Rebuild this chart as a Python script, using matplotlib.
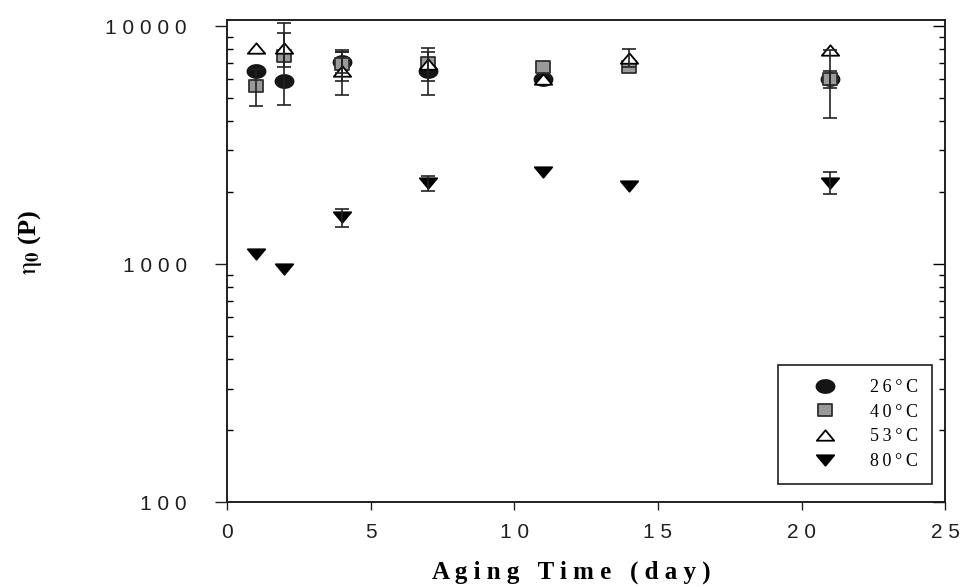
import matplotlib.pyplot as plt
import numpy as np
from matplotlib.path import Path
from matplotlib.ticker import FixedLocator, FuncFormatter, LogLocator, NullFormatter

# ---------------------------------------------------------------------------
# Data: zero-shear viscosity vs. aging time at four storage temperatures
# ---------------------------------------------------------------------------

days_26 = [1, 2, 4, 7, 11, 21]
eta_26 = [6450, 5900, 7050, 6450, 6000, 6000]
err_26 = [0, 0, 700, 1340, 0, 500]

days_40 = [1, 2, 4, 7, 11, 14, 21]
eta_40 = [5600, 7450, 6900, 7000, 6700, 6750, 6000]
err_40 = [1000, 2800, 1000, 0, 0, 0, 1900]

days_53 = [1, 2, 4, 7, 11, 14, 21]
eta_53 = [8100, 8050, 6450, 6950, 6000, 7350, 7900]
err_53 = [0, 1300, 1300, 1100, 0, 620, 0]

days_80 = [1, 2, 4, 7, 11, 14, 21]
eta_80 = [1100, 950, 1570, 2190, 2430, 2130, 2200]
err_80 = [0, 0, 135, 160, 0, 0, 225]

labels = ["26°C", "40°C", "53°C", "80°C"]
x_ticks = [0, 5, 10, 15, 20, 25]
y_ticks = [100, 1000, 10000]

plt.rcParams["mathtext.fontset"] = "stix"

THIN = "\u2009"


def spaced(s: str, sep: str = " ") -> str:
    """Letter-spaced text, the way the old plotting package set it."""
    return sep.join(s)


# flattened marker shapes
t = np.linspace(0, 2 * np.pi, 40)
ELLIPSE = Path(np.column_stack([np.cos(t), 0.72 * np.sin(t)]), closed=True)
TRI_UP = Path([(0, 0.6), (-1, -0.6), (1, -0.6), (0, 0.6)], closed=True)
TRI_DOWN = Path([(0, -0.6), (-1, 0.6), (1, 0.6), (0, -0.6)], closed=True)
SQUARE = Path([(-1, -0.85), (1, -0.85), (1, 0.85), (-1, 0.85), (-1, -0.85)], closed=True)

series = [
    (days_26, eta_26, err_26, ELLIPSE, "#151515", "#151515", 13),
    (days_40, eta_40, err_40, SQUARE, "#9a9a9a", "#303030", 10),
    (days_53, eta_53, err_53, TRI_UP, "white", "black", 12.5),
    (days_80, eta_80, err_80, TRI_DOWN, "black", "black", 12.5),
]

fig = plt.figure(figsize=(9.64, 5.88), dpi=100)
ax = fig.add_axes([0.2355, 0.146, 0.745, 0.820])

handles = []
for (d, v, e, mk, fc, ec, ms), lab in zip(series, labels):
    h, = ax.plot(d, v, linestyle="none", marker=mk, markersize=ms,
                 markerfacecolor=fc, markeredgecolor=ec, markeredgewidth=1.3,
                 label=lab, zorder=3)
    handles.append(h)
    d = np.asarray(d)
    v = np.asarray(v, dtype=float)
    e = np.asarray(e, dtype=float)
    has = e > 0
    if has.any():
        ax.errorbar(d[has], v[has], yerr=e[has], fmt="none", ecolor="#222222",
                    elinewidth=1.2, capsize=5, capthick=1.2, zorder=4)

ax.set_yscale("log")
ax.set_xlim(0, 25)
ax.set_ylim(100, 10600)

ax.xaxis.set_major_locator(FixedLocator(x_ticks))
ax.yaxis.set_major_locator(FixedLocator(y_ticks))
ax.yaxis.set_minor_locator(LogLocator(base=10, subs=np.arange(2, 10)))
ax.yaxis.set_minor_formatter(NullFormatter())

tick_fmt = FuncFormatter(lambda val, pos: spaced(f"{val:g}"))
ax.xaxis.set_major_formatter(tick_fmt)
ax.yaxis.set_major_formatter(tick_fmt)

ax.tick_params(axis="x", which="major", direction="out", length=6, width=1,
               top=False, labelsize=15, pad=9, colors="#202020")
ax.tick_params(axis="y", which="major", direction="out", length=9, width=1,
               right=False, labelsize=15, pad=20, colors="#202020")
ax.tick_params(axis="y", which="minor", direction="in", length=4, width=1,
               right=False)
for lab in ax.get_xticklabels() + ax.get_yticklabels():
    lab.set_family(["Liberation Sans", "DejaVu Sans"])

# right-hand axis carries inward ticks only
ax_r = ax.twinx()
ax_r.set_yscale("log")
ax_r.set_ylim(ax.get_ylim())
ax_r.yaxis.set_major_locator(FixedLocator(y_ticks))
ax_r.yaxis.set_minor_locator(LogLocator(base=10, subs=np.arange(2, 10)))
ax_r.yaxis.set_major_formatter(NullFormatter())
ax_r.yaxis.set_minor_formatter(NullFormatter())
ax_r.tick_params(axis="y", which="major", direction="in", length=9, width=1)
ax_r.tick_params(axis="y", which="minor", direction="in", length=4, width=1)

for a in (ax, ax_r):
    for sp in a.spines.values():
        sp.set_linewidth(1.2)
        sp.set_color("#202020")

serif = ["Liberation Serif", "DejaVu Serif"]
ax.set_xlabel(spaced("Aging Time (day)"), fontsize=18, fontweight="bold",
              family=serif)
ax.xaxis.set_label_coords(0.48, -0.122)
ax.set_ylabel(r"$\mathrm{\eta}_{\mathbf{0}}$" + " (P)", fontsize=19,
              fontweight="bold", family=serif)
ax.yaxis.set_label_coords(-0.255, 0.54)

leg = ax.legend(handles=handles, labels=[spaced(s, THIN) for s in labels],
                loc="lower right", bbox_to_anchor=(0.982, 0.037),
                frameon=True, fancybox=False, edgecolor="#202020",
                framealpha=1, prop={"family": serif, "size": 13},
                handlelength=3.6, handletextpad=0.7, borderpad=0.8,
                labelspacing=0.42, borderaxespad=0)
leg.get_frame().set_linewidth(1.2)

fig.savefig("out.png", dpi=100)
